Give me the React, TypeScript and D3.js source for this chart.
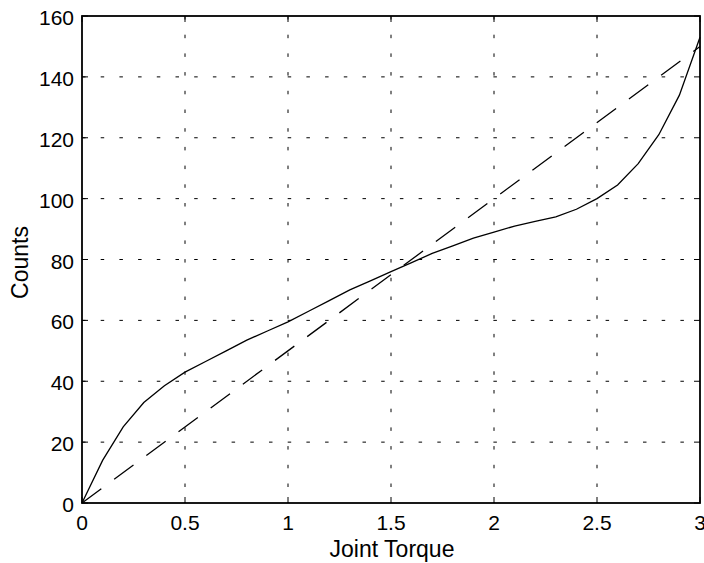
import * as d3 from 'd3';
import React from 'react';

// joint torque samples and measured counts
const torque = [0, 0.1, 0.2, 0.3, 0.4, 0.5, 0.6, 0.7, 0.8, 0.9, 1.0, 1.1, 1.2, 1.3, 1.4, 1.5, 1.6, 1.7, 1.8, 1.9, 2.0, 2.1, 2.2, 2.3, 2.4, 2.5, 2.6, 2.7, 2.8, 2.9, 3.0];
const counts = [0, 14, 25, 33, 38.5, 43, 46.5, 50, 53.5, 56.5, 59.5, 63, 66.5, 70, 73, 76, 79, 82, 84.5, 87, 89, 91, 92.5, 94, 96.5, 100, 104.5, 111.5, 121, 134, 153];
// linear reference line
const refTorque = [0, 3];
const refCounts = [0, 150];

const xTicks = [0, 0.5, 1, 1.5, 2, 2.5, 3];
const yTicks = [0, 20, 40, 60, 80, 100, 120, 140, 160];

const W = 704;
const H = 563;
const margin = { top: 16, right: 4, bottom: 60, left: 82 };
const font = '"Liberation Sans", Arial, sans-serif';

export default function App() {
  const x = d3.scaleLinear().domain([0, 3]).range([margin.left, W - margin.right]);
  const y = d3.scaleLinear().domain([0, 160]).range([H - margin.bottom, margin.top]);
  const [x0, x1] = x.range();
  const [y0, y1] = y.range();

  const line = d3
    .line<number>()
    .x((d, i) => x(torque[i]))
    .y((d) => y(d));
  const refLine = d3
    .line<number>()
    .x((d, i) => x(refTorque[i]))
    .y((d) => y(d));

  const tick = 6;

  return (
    <svg width={W} height={H} style={{ position: 'absolute', left: 0, top: 0, background: '#fff' }}>
      <rect x={0} y={0} width={W} height={H} fill="#fff" />
      {/* grid */}
      <g stroke="#000" strokeWidth={1} strokeDasharray="3.5,15.2">
        {xTicks.slice(1, -1).map((t) => (
          <line key={'gx' + t} x1={x(t)} x2={x(t)} y1={y1} y2={y0} />
        ))}
        {yTicks.slice(1, -1).map((t) => (
          <line key={'gy' + t} x1={x0} x2={x1} y1={y(t)} y2={y(t)} />
        ))}
      </g>
      {/* data */}
      <path d={line(counts) || ''} fill="none" stroke="#000" strokeWidth={1.3} />
      <path d={refLine(refCounts) || ''} fill="none" stroke="#000" strokeWidth={1.3} strokeDasharray="24,16" />
      {/* ticks */}
      <g stroke="#000" strokeWidth={1}>
        {xTicks.map((t) => (
          <g key={'tx' + t}>
            <line x1={x(t)} x2={x(t)} y1={y0} y2={y0 - tick} />
            <line x1={x(t)} x2={x(t)} y1={y1} y2={y1 + tick} />
          </g>
        ))}
        {yTicks.map((t) => (
          <g key={'ty' + t}>
            <line x1={x0} x2={x0 + tick} y1={y(t)} y2={y(t)} />
            <line x1={x1} x2={x1 - tick} y1={y(t)} y2={y(t)} />
          </g>
        ))}
      </g>
      {/* frame */}
      <rect x={x0} y={y1} width={x1 - x0} height={y0 - y1} fill="none" stroke="#000" strokeWidth={1.8} />
      {/* tick labels */}
      <g fontFamily={font} fontSize={21} fill="#000">
        {xTicks.map((t) => (
          <text key={'lx' + t} x={x(t)} y={y0 + 27} textAnchor="middle">
            {String(t)}
          </text>
        ))}
        {yTicks.map((t) => (
          <text key={'ly' + t} x={x0 - 8} y={y(t) + 9} textAnchor="end">
            {String(t)}
          </text>
        ))}
      </g>
      {/* axis titles */}
      <g fontFamily={font} fontSize={23} fill="#000">
        <text x={(x0 + x1) / 2 + 1} y={557} textAnchor="middle">
          Joint Torque
        </text>
        <text transform={`translate(28,${(y0 + y1) / 2 + 3}) rotate(-90)`} textAnchor="middle">
          Counts
        </text>
      </g>
    </svg>
  );
}
